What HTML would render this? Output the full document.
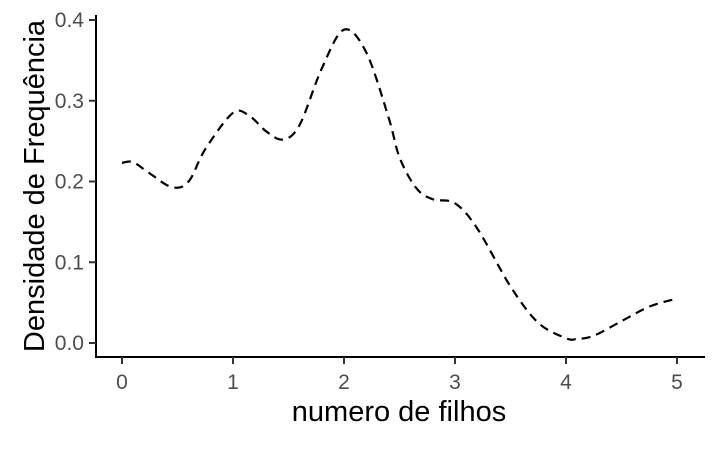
<!DOCTYPE html>
<html><head><meta charset="utf-8"><style>
html,body{margin:0;padding:0;background:#fff;}
svg text{font-family:"Liberation Sans",Arial,sans-serif;}
</style></head><body>
<svg id="chart" width="720" height="444" viewBox="0 0 720 444">
<rect width="720" height="444" fill="#fff"/>
<g id="axes"></g>
<path id="curve" fill="none" stroke="#000" stroke-width="2.2" stroke-dasharray="9,6"/>
<text x="399" y="421" font-size="29" text-anchor="middle" fill="#000">numero de filhos</text>
<text transform="translate(44,186) rotate(-90)" font-size="29" text-anchor="middle" fill="#000">Densidade de Frequência</text>
</svg>
<script>
const xValues=[0,0.1,0.25,0.45,0.6,0.75,1.0,1.15,1.3,1.45,1.6,1.8,2.0,2.2,2.4,2.5,2.65,2.8,3.0,3.2,3.5,3.75,4.0,4.1,4.25,4.5,4.75,5.0];
const yValues=[0.223,0.224,0.21,0.193,0.2,0.24,0.285,0.281,0.262,0.252,0.27,0.34,0.388,0.36,0.28,0.23,0.192,0.178,0.173,0.142,0.07,0.025,0.006,0.005,0.009,0.027,0.045,0.055];
const xTicks=[0,1,2,3,4,5];
const yTicks=[0.0,0.1,0.2,0.3,0.4];
const xs=v=>122+v*111;
const ys=v=>343-v*807.5;
const NS='http://www.w3.org/2000/svg';
const ax=document.getElementById('axes');
function mk(t,a){const e=document.createElementNS(NS,t);for(const k in a)e.setAttribute(k,a[k]);ax.appendChild(e);return e;}
const yl=mk('line',{x1:96,y1:15,x2:96,y2:358,stroke:'#000','stroke-width':2});


const xl=mk('line',{x1:95,y1:357,x2:705,y2:357,stroke:'#000','stroke-width':2});


xTicks.forEach(t=>{
 const l=mk('line',{x1:xs(t),y1:357,x2:xs(t),y2:364,stroke:'#333','stroke-width':2});
 
 
 const tx=mk('text',{x:xs(t),y:389,'font-size':21,'text-anchor':'middle',fill:'#4d4d4d'});
 tx.textContent=t;
 
 
});
yTicks.forEach(t=>{
 const l=mk('line',{x1:89,y1:ys(t),x2:96,y2:ys(t),stroke:'#333','stroke-width':2});
 
 
 const tx=mk('text',{x:84,y:ys(t)+7,'font-size':21,'text-anchor':'end',fill:'#4d4d4d'});
 tx.textContent=t.toFixed(1);
 
 
});
const P=xValues.map((x,i)=>[xs(x),ys(yValues[i])]);
let d='M'+P[0][0]+','+P[0][1];
for(let i=0;i<P.length-1;i++){
 const p0=P[i-1]||P[i],p1=P[i],p2=P[i+1],p3=P[i+2]||P[i+1];
 const c1=[p1[0]+(p2[0]-p0[0])/6,p1[1]+(p2[1]-p0[1])/6];
 const c2=[p2[0]-(p3[0]-p1[0])/6,p2[1]-(p3[1]-p1[1])/6];
 d+=' C'+c1+' '+c2+' '+p2;
}
document.getElementById('curve').setAttribute('d',d);
</script>
</body></html>
